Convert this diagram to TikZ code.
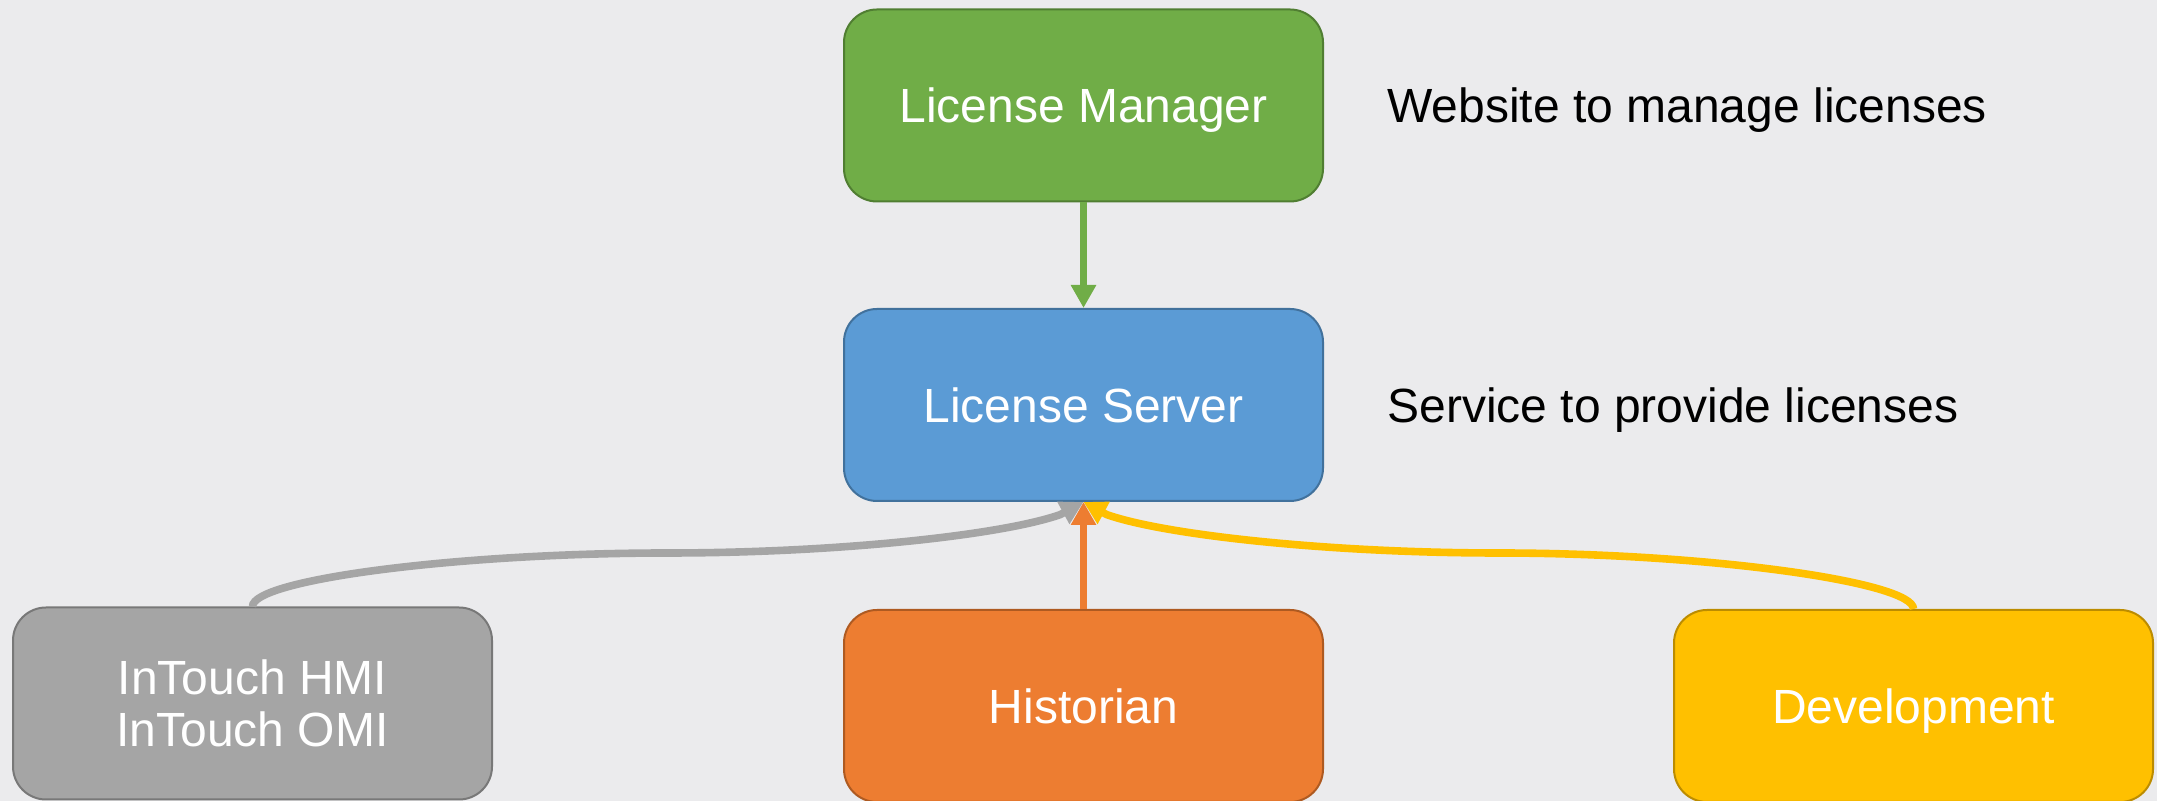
\documentclass[tikz,border=0pt]{standalone}
\usepackage{fontspec}
\setmainfont{Liberation Sans}
\usetikzlibrary{arrows.meta}
\definecolor{bg}{RGB}{235,235,237}
\definecolor{cgreen}{HTML}{70AD47}\definecolor{bgreen}{HTML}{507E32}
\definecolor{cblue}{HTML}{5B9BD5}\definecolor{bblue}{HTML}{41719C}
\definecolor{cgray}{HTML}{A5A5A5}\definecolor{bgray}{HTML}{787878}
\definecolor{corange}{HTML}{ED7D31}\definecolor{borange}{HTML}{AE5A21}
\definecolor{cyellow}{HTML}{FFC000}\definecolor{byellow}{HTML}{BC8C00}
\tikzset{
  box/.style={rectangle, rounded corners=16.5pt, minimum width=239.5pt, minimum height=96pt,
    inner sep=0pt, align=center, line width=1pt, text=white,
    font=\fontsize{24}{26}\selectfont},
  one/.style={text height=17.5pt, text depth=0pt, yshift=-1.25pt},
  side/.style={anchor=west, inner sep=0pt, text=black, font=\fontsize{24}{26}\selectfont,
    text height=17.5pt, text depth=0pt, yshift=-1.25pt},
  conn/.style={line width=3.8pt, -{Triangle[width=12pt,length=11.5pt]}},
}
\begin{document}
\begin{tikzpicture}[x=0.5pt,y=0.5pt]
\fill[bg] (0,0) rectangle (2157,801);
\useasboundingbox (0,0) rectangle (2157,801);
\node[box, one, fill=cgreen, draw=bgreen] (lm) at (1083.5,698) {License Manager};
\node[box, one, fill=cblue, draw=bblue] (ls) at (1083.5,398.5) {License Server};
\node[box, fill=cgray, draw=bgray] (it) at (252.5,97.5) {InTouch HMI\\InTouch OMI};
\node[box, one, fill=corange, draw=borange] (hi) at (1083.5,97.5) {Historian};
\node[box, one, fill=cyellow, draw=byellow] (dv) at (1913.5,97.5) {Development};
\node[side] (lmt) at (1387,698) {Website to manage licenses};
\node[side] (lst) at (1387,398.5) {Service to provide licenses};
\coordinate (gm) at (668,248);
\coordinate (gs) at (1060.23,286.37);
\coordinate (ym) at (1498.5,248);
\coordinate (ys) at (1106.74,286.37);
\draw[conn, cgreen] (lm.south) -- (ls.north);
\draw[conn, cgray] (it.north) .. controls +(0,27.25) and +(-207.75,0) .. (gm)
  .. controls (834.2,248) and (1000.4,265.44) .. (gs) -- (ls.south);
\draw[conn, cyellow] (dv.north) .. controls +(0,27.25) and +(207.5,0) .. (ym)
  .. controls (1332.5,248) and (1166.5,265.44) .. (ys) -- (ls.south);
\draw[conn, corange] (hi.north) -- (ls.south);
\end{tikzpicture}
\end{document}
